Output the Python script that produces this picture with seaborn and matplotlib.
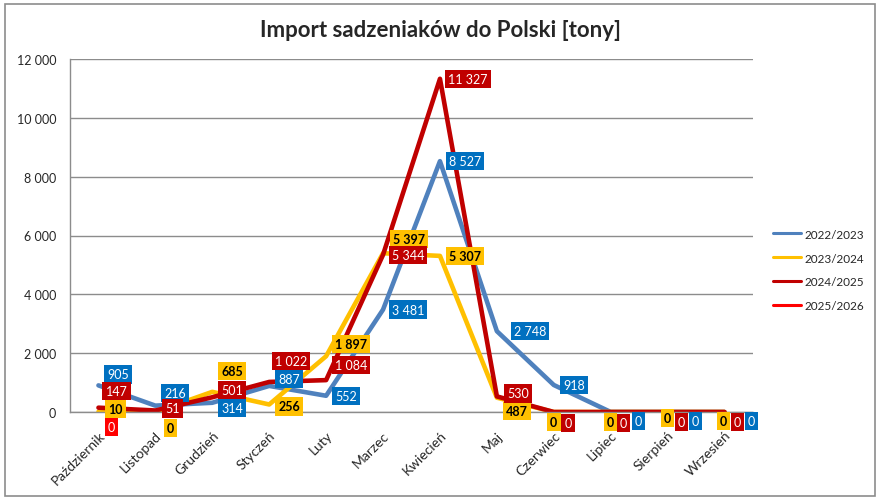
import matplotlib
matplotlib.use("Agg")
import matplotlib.pyplot as plt
from matplotlib.patches import Rectangle
import numpy as np
import pandas as pd
import seaborn as sns

# dane
months = ["Październik", "Listopad", "Grudzień", "Styczeń", "Luty", "Marzec",
          "Kwiecień", "Maj", "Czerwiec", "Lipiec", "Sierpień", "Wrzesień"]
seasons = ["2022/2023", "2023/2024", "2024/2025", "2025/2026"]
s2223 = [905, 216, 314, 887, 552, 3481, 8527, 2748, 918, 0, 0, 0]
s2324 = [10, 0, 685, 256, 1897, 5397, 5307, 487, 0, 0, 0, 0]
s2425 = [147, 51, 501, 1022, 1084, 5344, 11327, 530, 0, 0, 0, 0]
s2526 = [0] + [None] * 11

series = [s2223, s2324, s2425, s2526]
line_colors = ["#4F81BD", "#FFC000", "#C00000", "#FF0000"]
box_colors = ["#0070C0", "#FFC000", "#C00000", "#FF0000"]
text_colors = ["white", "black", "white", "white"]
text_weights = ["normal", "bold", "normal", "normal"]

# przesunięcia etykiet (piksele ekranu: dx w prawo, dy w dół)
label_offsets = [
    [(20, -11), (20, -13), (20, 5), (20, -7), (20, 0), (25, 0), (25, 0), (33, 0),
     (20, 0), (28, 9), (28, 9), (27, 9)],
    [(17, -3), (15, 16), (20, -21), (20, 2), (25, -12), (26, -14), (25, 0), (20, 13),
     (0, 10), (0, 10), (0, 6), (-1, 9)],
    [(18, -17), (17, -2), (20, -7), (22, -21), (25, -15), (25, 0), (28, 0), (21, -3),
     (14, 11), (13, 11), (14, 10), (13, 10)],
    [(13, 15)],
]

rows = []
for name, vals in zip(seasons, series):
    for m, v in zip(months, vals):
        rows.append({"Miesiąc": m, "Sezon": name, "Tony": np.nan if v is None else v})
df = pd.DataFrame(rows)

sns.set_style("white")
plt.rcParams["font.family"] = ["Lato", "DejaVu Sans"]

fig = plt.figure(figsize=(8.81, 5.02), dpi=100)
ax = fig.add_axes([70 / 881, 1 - 413 / 502, 683 / 881, 353 / 502])

sns.lineplot(data=df, x="Miesiąc", y="Tony", hue="Sezon", hue_order=seasons,
             palette=line_colors, linewidth=3.3, sort=False, ax=ax)

ax.set_xlim(-0.5, 11.5)
ax.set_ylim(0, 12000)
ax.set_yticks(range(0, 12001, 2000))
ax.set_yticklabels([f"{v:,}".replace(",", " ") for v in range(0, 12001, 2000)], fontsize=9)
ax.yaxis.grid(True, color="#8c8c8c", linewidth=1)
ax.set_axisbelow(True)
ax.set_xlabel("")
ax.set_ylabel("")
ax.set_xticks(range(len(months)))
ax.set_xticklabels(months, rotation=45, ha="right", rotation_mode="anchor", fontsize=10)
ax.tick_params(axis="y", length=0, pad=10)
ax.tick_params(axis="x", length=0, pad=12)
for side in ["top", "right"]:
    ax.spines[side].set_visible(False)
for side in ["left", "bottom"]:
    ax.spines[side].set_color("#8c8c8c")
    ax.spines[side].set_linewidth(1)

# etykiety danych
for k, vals in enumerate(series):
    for i, v in enumerate(vals):
        if v is None:
            continue
        dx, dy = label_offsets[k][i]
        ax.annotate(f"{v:,}".replace(",", " "), xy=(i, v), xytext=(dx, -dy),
                    textcoords="offset pixels", ha="center", va="center",
                    fontsize=9, color=text_colors[k], fontweight=text_weights[k],
                    bbox=dict(boxstyle="square,pad=0.25", fc=box_colors[k], ec="none"),
                    zorder=5, annotation_clip=False)

handles, labels = ax.get_legend_handles_labels()
ax.legend(handles, labels, loc="center left", bbox_to_anchor=(762 / 881, 1 - 271 / 502),
          bbox_transform=fig.transFigure, frameon=False, fontsize=8.5,
          handlelength=2.4, labelspacing=1.1, handletextpad=0.3)
for line in ax.get_legend().get_lines():
    line.set_linewidth(2.2)

fig.text(440 / 881, 1 - 31 / 502, "Import sadzeniaków do Polski [tony]",
         ha="center", va="center", fontsize=16, fontweight="bold")

fig.patches.append(Rectangle((5 / 881, 5 / 502), 870 / 881, 492 / 502,
                             transform=fig.transFigure, fill=False,
                             ec="#8c8c8c", lw=1.2))

fig.savefig("out.png", dpi=100)
